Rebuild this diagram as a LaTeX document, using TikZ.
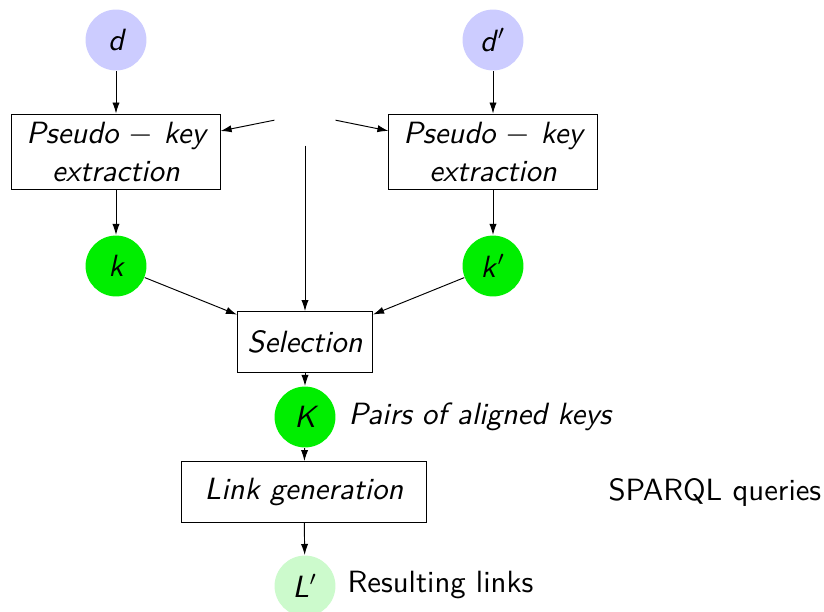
\documentclass[tikz,border=0pt]{standalone}
\usepackage{fontspec}
\usetikzlibrary{arrows.meta}
\definecolor{docblue}{RGB}{204,204,255}
\definecolor{keygreen}{RGB}{0,238,0}
\definecolor{linkgreen}{RGB}{204,250,204}
\newcommand{\labelsize}{\fontsize{10.6}{12.8}\selectfont}
\tikzset{
  datanode/.style={circle, fill=docblue, minimum size=21pt, inner sep=0pt, font=\labelsize\sffamily\itshape},
  keynode/.style={circle, fill=keygreen, minimum size=21pt, inner sep=0pt, font=\labelsize\sffamily\itshape},
  linknode/.style={circle, fill=linkgreen, minimum size=21pt, inner sep=0pt, font=\labelsize\sffamily\itshape},
  procbox/.style={draw, line width=0.35pt, align=center, inner sep=0pt, font=\labelsize\sffamily\itshape},
  hidden/.style={minimum width=20.7pt, minimum height=21.4pt, inner sep=0pt},
  note/.style={anchor=west, inner sep=0pt, font=\labelsize\sffamily},
  flow/.style={line width=0.33pt, -{Latex[length=3.8pt,width=2.5pt]}}
}
\begin{document}
\begin{tikzpicture}[x=0.345pt, y=-0.345pt]
\useasboundingbox (0,0) rectangle (824,611);
% sources
\node[datanode] (d)  at (116,40) {d};
\node[datanode] (dp) at (493,40) {d\kern0.6pt$'$};
% extraction
\node[procbox, minimum width=71.8pt, minimum height=26.2pt] (exl) at (116,152) {Pseudo $-$ key\\extraction};
\node[procbox, minimum width=71.8pt, minimum height=26.2pt] (exr) at (493,152) {Pseudo $-$ key\\extraction};
\node[hidden] (src) at (305,114) {};
% keys
\node[keynode] (k)  at (116,266) {k};
\node[keynode] (kp) at (493,266) {k\kern0.6pt$'$};
% selection and links
\node[procbox, minimum width=46.6pt, minimum height=21pt] (sel) at (305,342) {Selection};
\node[keynode] (K) at (305,417) {K};
\node[note, font=\labelsize\sffamily\itshape] (pairs) at (348,417) {Pairs of aligned keys};
\node[procbox, minimum width=84.5pt, minimum height=21pt] (gen) at (304,492) {Link generation};
\node[note] (sparql) at (608,492) {SPARQL queries};
\node[linknode] (L) at (305,586) {L$'$};
\node[note] (res) at (347,585) {Resulting links};
% connectors
\draw[flow] (d) -- (exl);
\draw[flow] (dp) -- (exr);
\draw[flow] (src) -- (exl);
\draw[flow] (src) -- (exr);
\draw[flow] (src) -- (sel);
\draw[flow] (exl) -- (k);
\draw[flow] (exr) -- (kp);
\draw[flow] (k) -- (sel);
\draw[flow] (kp) -- (sel);
\draw[flow] (sel) -- (K);
\draw[flow] (K) -- (gen);
\draw[flow] (gen) -- (L);
\end{tikzpicture}
\end{document}
